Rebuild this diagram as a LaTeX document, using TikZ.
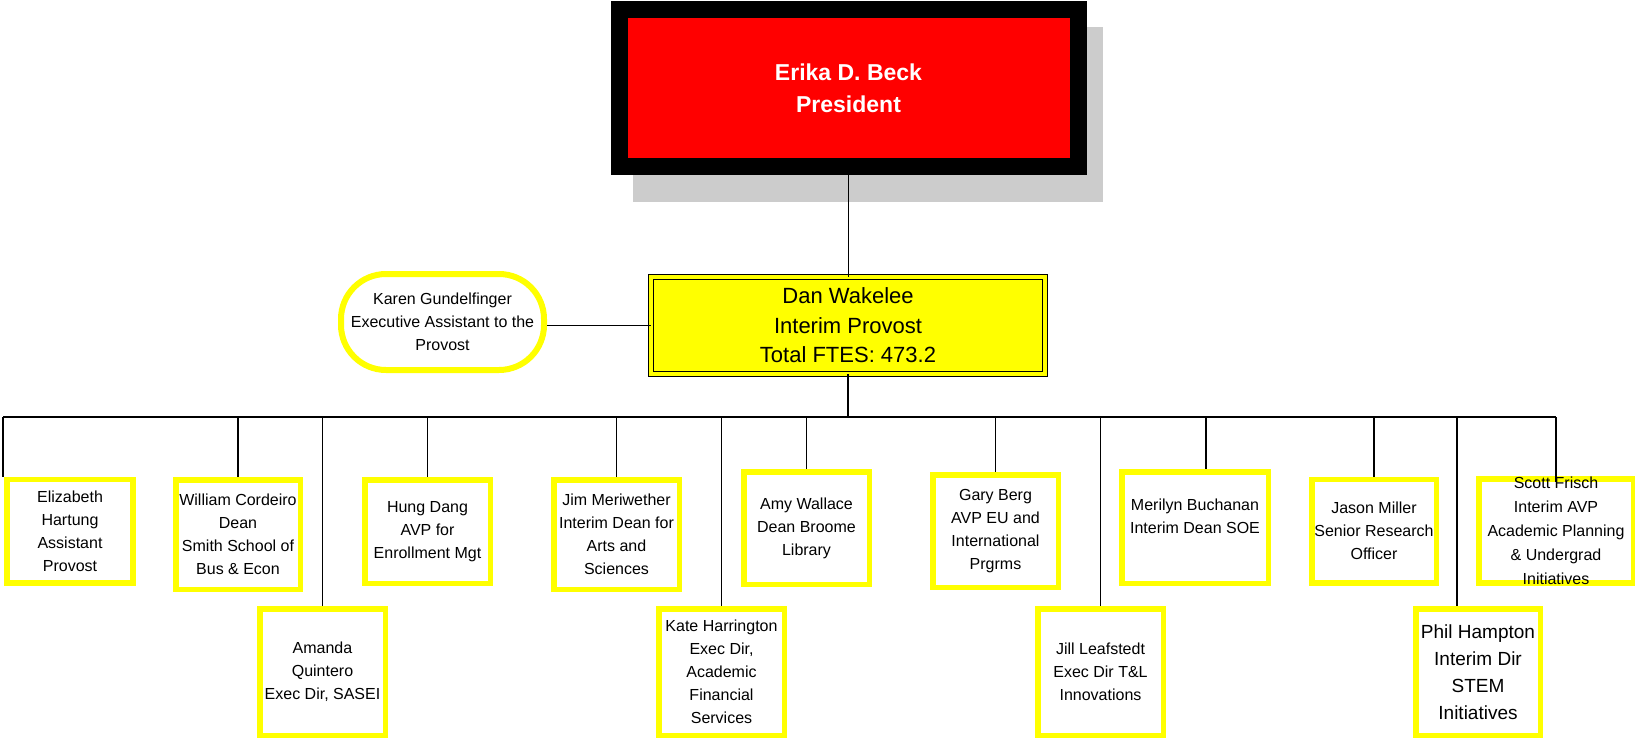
\documentclass[tikz,border=0pt]{standalone}
\usepackage{fontspec}
\setmainfont{Liberation Sans}
\definecolor{chartyellow}{RGB}{255,255,0}
\definecolor{chartred}{RGB}{255,0,0}
\definecolor{shadowgray}{RGB}{204,204,204}
\newcommand{\boxfont}{\fontsize{16bp}{23bp}\selectfont}

\begin{document}
\begin{tikzpicture}[x=1bp,y=-1bp,
  link/.style={line width=1.2bp},
  person/.style={draw=chartyellow,line width=5.5bp,fill=white,inner sep=0pt,align=center,
    minimum width=125.5bp,minimum height=103.5bp,font=\boxfont},
  lower/.style={person,minimum height=126.5bp}]
\useasboundingbox (0,0) rectangle (1635,741);
% top of the chart
\fill[shadowgray] (633,27) rectangle (1103,202);
\node[draw=black,fill=chartred,line width=17bp,minimum width=459bp,minimum height=156bp,
  text=white,align=center,font=\fontsize{23bp}{32bp}\selectfont\bfseries] (pres) at (848.5,88) {Erika D. Beck\\President};
\node[fill=chartyellow,draw=black,line width=1.2bp,double=chartyellow,double distance=4bp,
  minimum width=393.6bp,minimum height=96.6bp,align=center,
  font=\fontsize{22bp}{29.5bp}\selectfont] (prov) at (848,325.5) {Dan Wakelee\\Interim Provost\\Total FTES: 473.2};
\node[draw=chartyellow,line width=6bp,fill=white,rounded corners=45bp,minimum width=203bp,
  minimum height=96bp,inner sep=0pt,align=center,font=\boxfont] (karen) at (442.5,322) {Karen Gundelfinger\\Executive Assistant to the\\Provost};
% upper row
\node[person] (eliz) at (70,531) {Elizabeth\\Hartung\\Assistant\\Provost};
\node[person,minimum width=124.5bp,minimum height=109.5bp] (will) at (238,534.5) {William Cordeiro\\Dean\\Smith School of\\Bus \& Econ};
\node[person] (hung) at (427.5,531.5) {Hung Dang\\AVP for\\Enrollment Mgt};
\node[person,minimum height=109.5bp] (jim) at (616.5,534.5) {Jim Meriwether\\Interim Dean for\\Arts and\\Sciences};
\node[person,minimum height=112.5bp] (amy) at (806.5,528) {Amy Wallace\\Dean Broome\\Library};
\node[person,minimum height=112.5bp] (gary) at (995.5,531) {Gary Berg\\AVP EU and\\International\\Prgrms};
\node[person,minimum width=146.5bp,minimum height=111.5bp] (meri) at (1195,527.5) {Merilyn Buchanan\\Interim Dean SOE\\~};
\node[person,minimum width=124.5bp] (jason) at (1374,531) {Jason Miller\\Senior Research\\Officer};
\node[person,minimum width=154.5bp,inner ysep=-2bp,font=\fontsize{16bp}{24bp}\selectfont] (scott) at (1556,531) {Scott Frisch\\Interim AVP\\Academic Planning\\\& Undergrad\\Initiatives};
% lower row
\node[lower] (aman) at (322.5,672) {Amanda\\Quintero\\Exec Dir, SASEI};
\node[lower] (kate) at (721.5,672) {Kate Harrington\\Exec Dir,\\Academic\\Financial\\Services};
\node[lower] (jill) at (1100.5,672) {Jill Leafstedt\\Exec Dir T\&L\\Innovations};
\node[lower,minimum width=124.5bp,font=\fontsize{19bp}{27bp}\selectfont] (phil) at (1478,672) {Phil Hampton\\Interim Dir\\STEM\\Initiatives};
% connectors
\coordinate (busL) at (3,417);
\coordinate (busR) at (1556,417);
\coordinate (meriT) at (1206,417);
\coordinate (philT) at (1457,417);
\draw[link] (pres.south) -- (pres.south |- prov.north);
\draw[link] (prov.west -| karen.east) -- (prov.west);
\draw[link] (prov.south) -- (prov.south |- busL);
\draw[link] (busL) -- (busR);
\draw[link] (busL) -- (busL |- eliz.north);
\draw[link] (will.north |- busL) -- (will.north);
\draw[link] (aman.north |- busL) -- (aman.north);
\draw[link] (hung.north |- busL) -- (hung.north);
\draw[link] (jim.north |- busL) -- (jim.north);
\draw[link] (kate.north |- busL) -- (kate.north);
\draw[link] (amy.north |- busL) -- (amy.north);
\draw[link] (gary.north |- busL) -- (gary.north);
\draw[link] (jill.north |- busL) -- (jill.north);
\draw[link] (meriT) -- (meriT |- meri.north);
\draw[link] (jason.north |- busL) -- (jason.north);
\draw[link] (philT) -- (philT |- phil.north);
\draw[link,shorten >=-6bp] (busR) -- (scott.north);
\end{tikzpicture}
\end{document}
